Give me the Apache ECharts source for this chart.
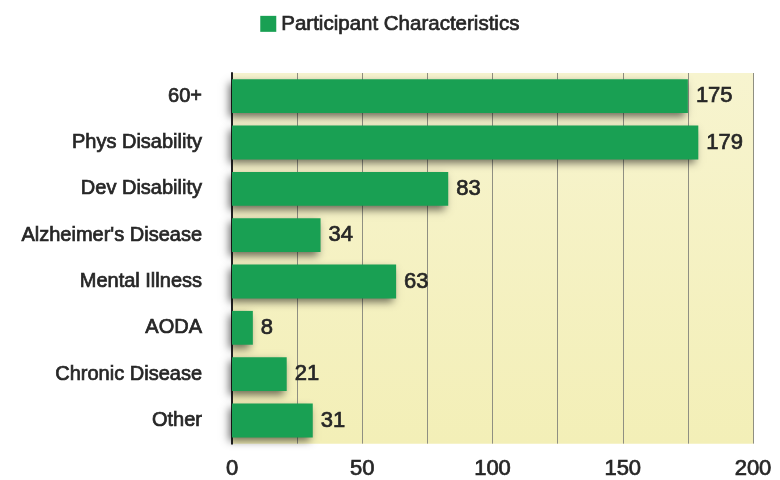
<!DOCTYPE html>
<html><head><meta charset="utf-8">
<script src="https://cdn.jsdelivr.net/npm/echarts@6/dist/echarts.min.js"></script>
<style>html,body{margin:0;padding:0;background:#fff}#c{width:780px;height:480px}</style>
</head><body><div id="c"></div>
<script>
const categories = ["60+", "Phys Disability", "Dev Disability", "Alzheimer's Disease", "Mental Illness", "AODA", "Chronic Disease", "Other"];
const values = [175, 179, 83, 34, 63, 8, 21, 31];
const seriesName = "Participant Characteristics";
const xTicks = [0, 50, 100, 150, 200];

const FONT = 'Liberation Sans, Arial, Helvetica, sans-serif';
const TXT = '#262626';
const stroke = { textBorderColor: TXT, textBorderWidth: 0.7 };
const chart = echarts.init(document.getElementById('c'));
chart.setOption({
  animation: false,
  backgroundColor: '#ffffff',
  textStyle: { fontFamily: FONT },
  legend: {
    top: 8, left: 'center',
    itemWidth: 16, itemHeight: 16, itemGap: 17,
    icon: 'rect',
    textStyle: Object.assign({ fontSize: 20.5, color: TXT, fontFamily: FONT }, stroke),
    data: [seriesName]
  },
  grid: {
    left: 232, right: 27, top: 73, bottom: 34,
    show: true,
    backgroundColor: new echarts.graphic.LinearGradient(0, 0, 0, 1, [
      { offset: 0, color: '#f7f4cf' },
      { offset: 1, color: '#f3efb7' }
    ]),
    borderWidth: 0
  },
  xAxis: {
    type: 'value', min: 0, max: 200, interval: 25,
    axisLine: { show: false },
    axisTick: { show: false },
    splitLine: { show: true, lineStyle: { color: '#8f8f82', width: 1 } },
    axisLabel: Object.assign({
      fontSize: 22, color: TXT, margin: 14,
      formatter: v => xTicks.includes(v) ? String(v) : ''
    }, stroke)
  },
  yAxis: {
    type: 'category', data: categories, inverse: true,
    axisLine: { show: true, lineStyle: { color: '#222', width: 2 } },
    axisTick: { show: false },
    axisLabel: Object.assign({ fontSize: 20, color: TXT, margin: 30 }, stroke)
  },
  series: [{
    name: seriesName,
    type: 'bar',
    data: values,
    barWidth: '73%',
    itemStyle: {
      color: '#19a053',
      shadowColor: 'rgba(0,0,0,0.55)',
      shadowBlur: 8,
      shadowOffsetX: -3,
      shadowOffsetY: 4
    },
    label: Object.assign({
      show: true, position: 'right', distance: 8,
      fontSize: 22, color: TXT
    }, stroke)
  }]
});
</script></body></html>
